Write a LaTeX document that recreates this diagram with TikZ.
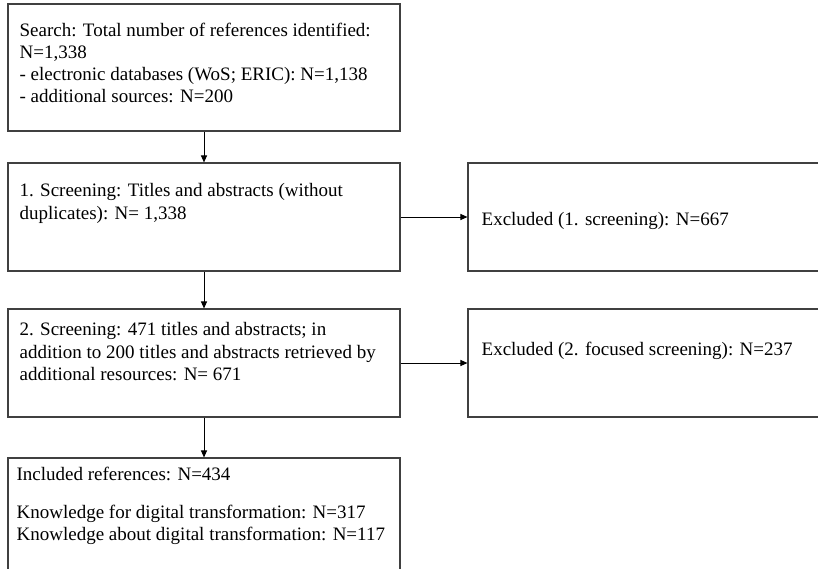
\documentclass[tikz,border=0pt]{standalone}
\usepackage{fontspec}
\setmainfont{Liberation Serif}
\usetikzlibrary{arrows.meta}
\tikzset{
  box/.style={draw=black!75, line width=1.1pt, inner sep=0pt, minimum width=392pt},
  widebox/.style={box, minimum width=372pt},
  txt/.style={anchor=north west, inner sep=0pt, align=left, font=\fontsize{19}{22.3}\selectfont},
  arr/.style={-{Triangle[length=7pt,width=6pt]}, line width=1pt}
}
\begin{document}
\begin{tikzpicture}[x=1pt,y=-1pt]
\useasboundingbox (0,0) rectangle (818,568);
\clip (0,0) rectangle (818,568);
% riquadri
\node[box, minimum height=127pt] (search) at (204,67.5) {};
\node[box, minimum height=108pt] (scr1) at (204,217) {};
\node[widebox, minimum height=108pt] (exc1) at (654,217) {};
\node[box, minimum height=108pt] (scr2) at (204,363) {};
\node[widebox, minimum height=108pt] (exc2) at (654,363) {};
\node[box, minimum height=130pt] (incl) at (204,523) {};
% testi
\node[txt] (searchtxt) at ([shift={(12,19)}]search.north west) {Search: Total number of references identified:\\ N=1,338\\ - electronic databases (WoS; ERIC): N=1,138\\ - additional sources: N=200};
\node[txt] (scr1txt) at ([shift={(12,21)}]scr1.north west) {1. Screening: Titles and abstracts (without\\ duplicates): N= 1,338};
\node[txt] (exc1txt) at ([shift={(14,50)}]exc1.north west) {Excluded (1. screening): N=667};
\node[txt] (scr2txt) at ([shift={(12,14)}]scr2.north west) {2. Screening: 471 titles and abstracts; in\\ addition to 200 titles and abstracts retrieved by\\ additional resources: N= 671};
\node[txt] (exc2txt) at ([shift={(14,33)}]exc2.north west) {Excluded (2. focused screening): N=237};
\node[txt] (incltxt) at ([shift={(9,9)}]incl.north west) {Included references: N=434\\[15.7pt] Knowledge for digital transformation: N=317\\ Knowledge about digital transformation: N=117};
% frecce
\draw[arr] (search) -- (scr1);
\draw[arr] (scr1) -- (exc1);
\draw[arr] (scr1) -- (scr2);
\draw[arr] (scr2) -- (exc2);
\draw[arr] (scr2) -- (incl);
\end{tikzpicture}
\end{document}
